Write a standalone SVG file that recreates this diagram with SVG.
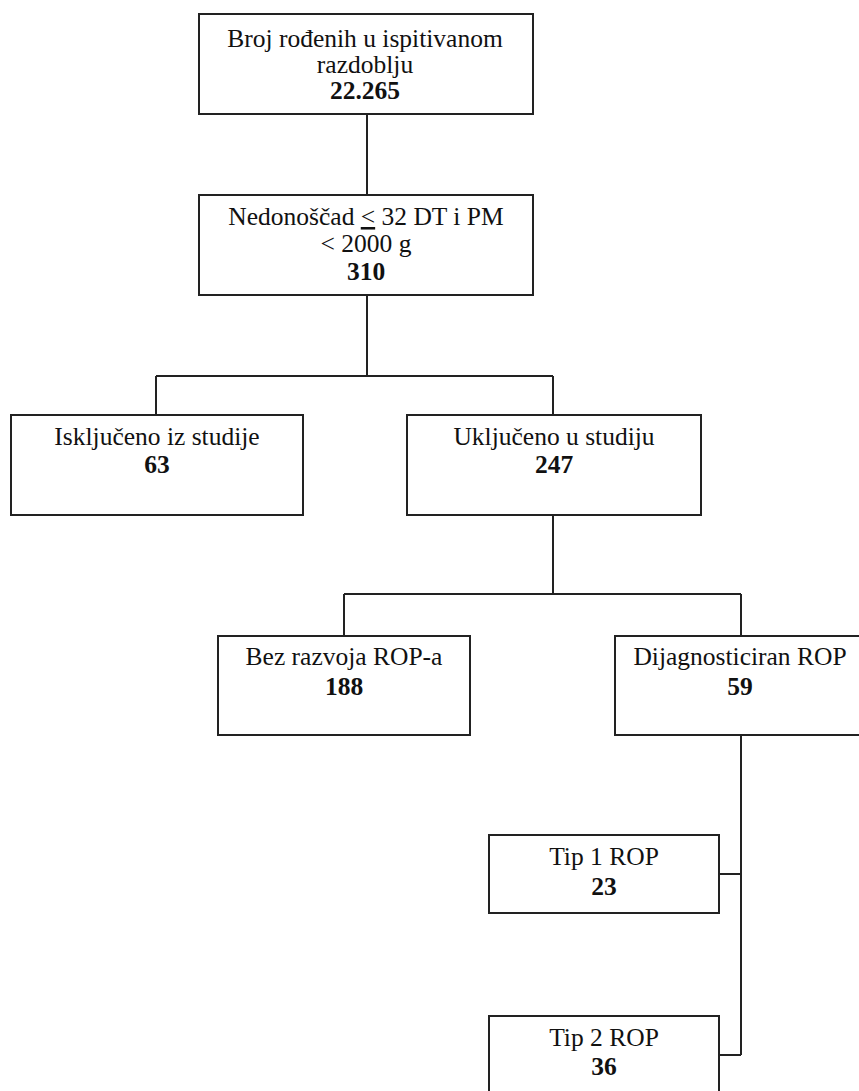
<svg xmlns="http://www.w3.org/2000/svg" width="859" height="1091" viewBox="0 0 859 1091">
<style>
.box{fill:#fff;stroke:#222;stroke-width:2}
.con{fill:none;stroke:#222;stroke-width:2}
text{font-family:"Liberation Serif","Times New Roman",serif;font-size:25.5px;fill:#111;text-anchor:middle}
.b{font-weight:bold}
</style>
<rect width="859" height="1091" fill="#fff"/>
<g id="connectors">
<path class="con" d="M367 114V195"/>
<path class="con" d="M367 295V376M156 376H553M156 376V415M553 376V415"/>
<path class="con" d="M553 515V594M344 594H741M344 594V636M741 594V636"/>
<path class="con" d="M741 735V1055M719 874H741M719 1055H741"/>
</g>
<g id="n1"><rect class="box" x="199" y="14" width="334" height="100"/>
<text x="365" y="47">Broj rođenih u ispitivanom</text><text x="365" y="73">razdoblju</text><text class="b" x="365" y="99">22.265</text></g>
<g id="n2"><rect class="box" x="199" y="195" width="334" height="100"/>
<text x="366" y="225">Nedonoščad <tspan text-decoration="underline">&lt;</tspan> 32 DT i PM</text><text x="366" y="252">&lt; 2000 g</text><text class="b" x="366" y="280">310</text></g>
<g id="n3"><rect class="box" x="11" y="415" width="292" height="100"/>
<text x="157" y="445">Isključeno iz studije</text><text class="b" x="157" y="473">63</text></g>
<g id="n4"><rect class="box" x="407" y="415" width="294" height="100"/>
<text x="554" y="445">Uključeno u studiju</text><text class="b" x="554" y="473">247</text></g>
<g id="n5"><rect class="box" x="218" y="636" width="252" height="99"/>
<text x="344" y="665">Bez razvoja ROP-a</text><text class="b" x="344" y="695">188</text></g>
<g id="n6"><rect class="box" x="615" y="636" width="252" height="99"/>
<text x="740" y="665">Dijagnosticiran ROP</text><text class="b" x="740" y="695">59</text></g>
<g id="n7"><rect class="box" x="489" y="835" width="230" height="78"/>
<text x="604" y="865">Tip 1 ROP</text><text class="b" x="604" y="895">23</text></g>
<g id="n8"><rect class="box" x="489" y="1016" width="230" height="90"/>
<text x="604" y="1046">Tip 2 ROP</text><text class="b" x="604" y="1075">36</text></g>
</svg>
